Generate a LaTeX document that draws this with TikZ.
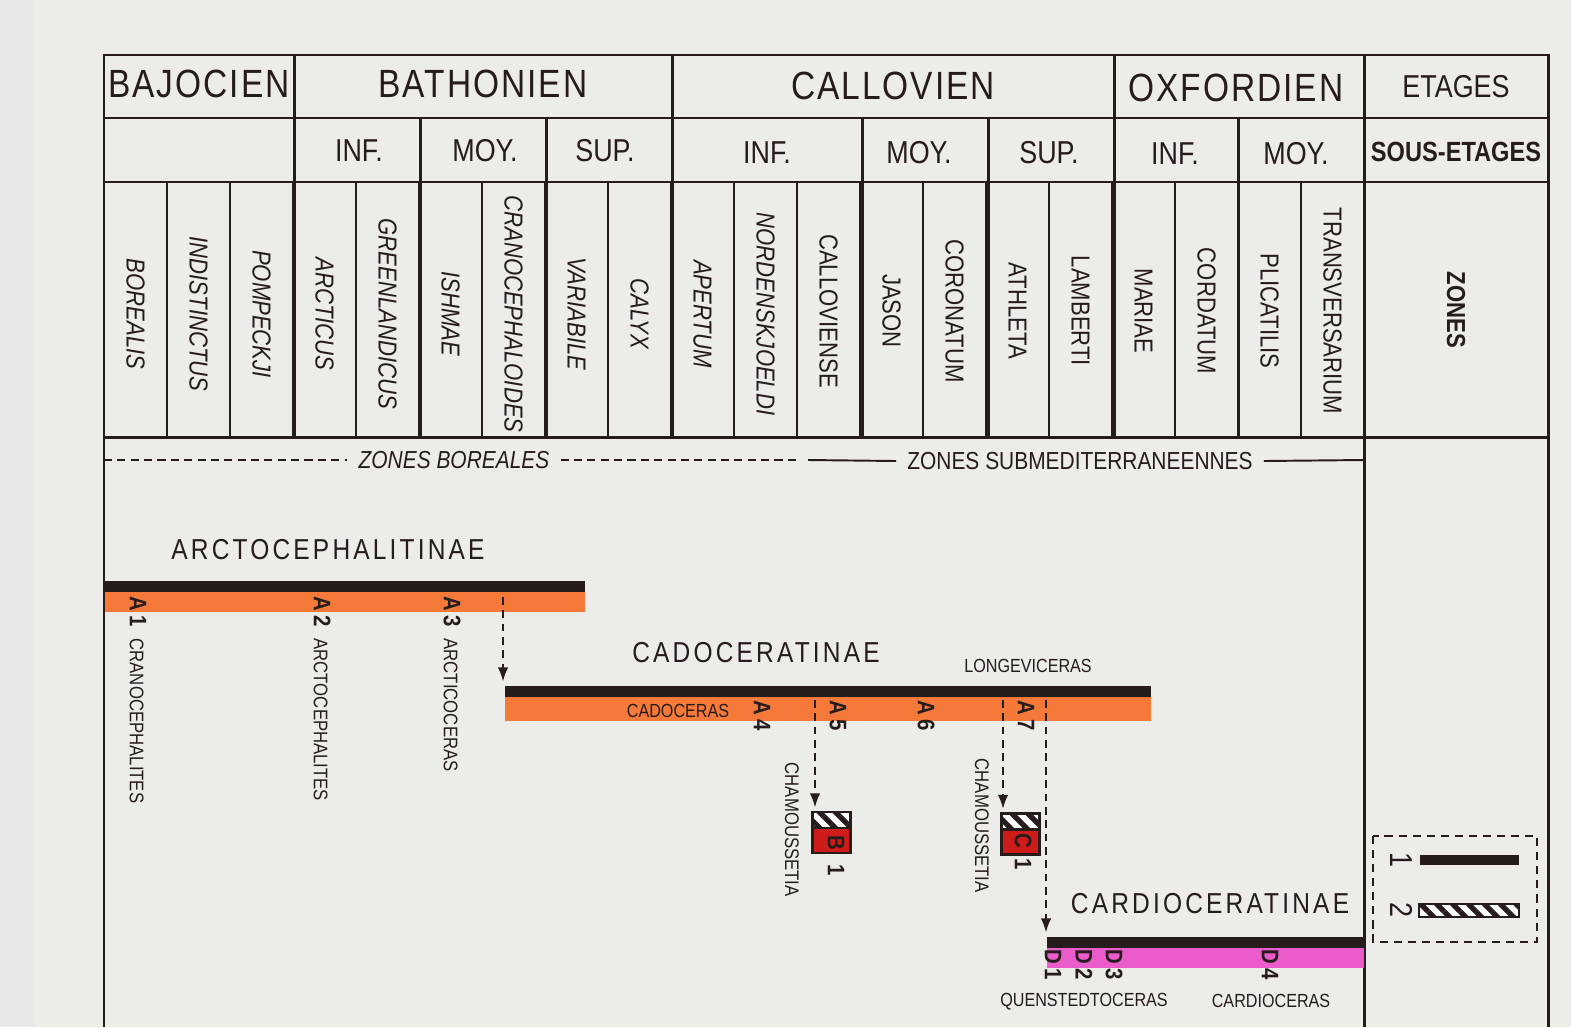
\documentclass[tikz,border=0pt]{standalone}
\usepackage{fontspec}
\setmainfont[FakeStretch=0.85]{Liberation Sans}
\newfontfamily\plotter[FakeStretch=0.85, LetterSpace=11]{Liberation Sans}
\newfontfamily\plotterstage[FakeStretch=0.85, LetterSpace=5]{Liberation Sans}
\usetikzlibrary{arrows.meta,patterns.meta}

\definecolor{paper}{RGB}{236,236,233}
\definecolor{paperedge}{RGB}{232,232,231}
\definecolor{ink}{RGB}{38,28,28}
\definecolor{orangebar}{RGB}{245,122,58}
\definecolor{pinkbar}{RGB}{234,92,202}
\definecolor{boxred}{RGB}{206,28,26}

\newcommand{\fsize}[1]{\fontsize{#1}{#1}\selectfont}
\newcommand{\genus}[1]{{\fsize{5.6}\mdseries #1}}

\begin{document}
\begin{tikzpicture}[
	x=0.01cm, y=-0.01cm,
	border/.style={draw=ink, line width=0.85pt},
	rule/.style={draw=ink, line width=0.55pt},
	stage/.style={text=ink, font=\plotterstage\fsize{11.2}},
	sub/.style={text=ink, font=\fsize{9}},
	zone/.style={text=ink, rotate=-90, font=\fsize{7.4}},
	boreal/.style={zone, font=\fsize{7.4}\itshape},
	band/.style={text=ink, inner sep=3pt, font=\fsize{7}},
	family/.style={text=ink, font=\plotter\fsize{8.2}},
	genre/.style={text=ink, inner sep=0, font=\fsize{5.4}},
	tag/.style={text=ink, rotate=-90, anchor=west, inner sep=0, font=\fsize{6.8}\bfseries},
	bar/.style={inner sep=0, anchor=north west, minimum height=0.31cm,
		path picture={\fill[ink] (path picture bounding box.north west)
			rectangle ([yshift=-0.11cm]path picture bounding box.north east);}},
	hatch/.style={pattern={Lines[angle=-45, distance=3.2pt, line width=1.5pt]}, pattern color=ink},
	hatchbox/.style={draw=ink, line width=0.6pt, fill=boxred, inner sep=0,
		minimum width=0.38cm, minimum height=0.41cm,
		path picture={
			\fill[white] (path picture bounding box.north west)
				rectangle ([yshift=-0.16cm]path picture bounding box.north east);
			\fill[hatch] (path picture bounding box.north west)
				rectangle ([yshift=-0.16cm]path picture bounding box.north east);
			\draw[ink, line width=0.6pt] ([yshift=-0.16cm]path picture bounding box.north west)
				-- ([yshift=-0.16cm]path picture bounding box.north east);}},
	flow/.style={draw=ink, line width=0.6pt, dash pattern=on 2.2pt off 1.6pt,
		shorten >=1pt, -{Latex[length=4pt, width=3pt]}},
	]

	\fill[paper] (0,0) rectangle (1571,1027);
	\fill[paperedge] (0,0) rectangle (34,1027);
	\useasboundingbox (0,0) rectangle (1571,1027);

	% table
	\draw[border] (104,1027) -- (104,55) -- (1548,55) -- (1548,1027);
	\draw[border] (1364,55) -- (1364,1027);
	\foreach \y in {118,182,437}
		\draw[border] (104,\y) -- (1548,\y);
	\foreach \x in {294,672,1114}
		\draw[border] (\x,55) -- (\x,437);
	\foreach \x in {420,546,862,988,1238}
		\draw[border] (\x,118) -- (\x,437);
	\foreach \i in {1,...,19}
		\draw[rule] ({104+63*\i},182) -- ({104+63*\i},437);

	\node[stage] (bajocien) at (199,84) {BAJOCIEN};
	\node[stage] (bathonien) at (483,84) {BATHONIEN};
	\node[stage] (callovien) at (893,86) {CALLOVIEN};
	\node[stage] (oxfordien) at (1236,88) {OXFORDIEN};
	\node[sub] (etages) at (1456,87) {ETAGES};

	\node[sub] (bathinf) at (359,151) {INF.};
	\node[sub] (bathmoy) at (485,151) {MOY.};
	\node[sub] (bathsup) at (605,151) {SUP.};
	\node[sub] (callinf) at (767,153) {INF.};
	\node[sub] (callmoy) at (919,153) {MOY.};
	\node[sub] (callsup) at (1049,153) {SUP.};
	\node[sub] (oxfinf) at (1175,154) {INF.};
	\node[sub] (oxfmoy) at (1296,154) {MOY.};
	\node[sub, font=\fsize{7.9}\bfseries] (sousetages) at (1456,152) {SOUS-ETAGES};

	\foreach \name [count=\i] in {BOREALIS,INDISTINCTUS,POMPECKJI,ARCTICUS,GREENLANDICUS,ISHMAE,CRANOCEPHALOIDES,VARIABILE,CALYX,APERTUM,NORDENSKJOELDI}
		\node[boreal] (zone\i) at ({72.5+63*\i},314) {\name};
	\foreach \name [count=\i from 12] in {CALLOVIENSE,JASON,CORONATUM,ATHLETA,LAMBERTI,MARIAE,CORDATUM,PLICATILIS,TRANSVERSARIUM}
		\node[zone] (zone\i) at ({72.5+63*\i},311) {\name};
	\node[zone, font=\fsize{7.4}\bfseries] (zones) at (1456,310) {ZONES};

	% boreal / submediterranean zones
	\node[band, font=\fsize{7}\itshape] (boreales) at (454,460) {ZONES BOREALES};
	\node[band] (submed) at (1080,461) {ZONES SUBMEDITERRANEENNES};
	\draw[rule, dash pattern=on 2.3pt off 1.5pt] (104,460) -- (boreales.west);
	\draw[rule, dash pattern=on 2.3pt off 1.5pt] (boreales.east) -- (798,460);
	\draw[rule] (808,460) -- (submed.west);
	\draw[rule] (submed.east) -- (1364,460);

	% subfamilies
	\node[family] (arcto) at (328,550) {ARCTOCEPHALITINAE};
	\node[family] (cado) at (756,653) {CADOCERATINAE};
	\node[family] (cardio) at (1210,904) {CARDIOCERATINAE};

	\node[bar, fill=orangebar, minimum width=4.8cm] (arctobar) at (104,580) {};
	\node[bar, fill=orangebar, minimum width=6.46cm, minimum height=0.35cm] (cadobar) at (504,685) {};
	\node[bar, fill=pinkbar, minimum width=3.17cm] (cardiobar) at (1046,936) {};

	\node[tag] (a1) at (138,596) {A\,1\enspace\genus{CRANOCEPHALITES}};
	\node[tag] (a2) at (322,596) {A\,2\enspace\genus{ARCTOCEPHALITES}};
	\node[tag] (a3) at (452,596) {A\,3\enspace\genus{ARCTICOCERAS}};
	\foreach \n/\x in {4/762,5/838,6/926,7/1026}
		\node[tag] (a\n) at (\x,700) {A\,\n};
	\foreach \n/\x in {1/1053,2/1084,3/1114,4/1270}
		\node[tag] (d\n) at (\x,949) {D\,\n};

	\node[genre] (cadoceras) at (678,711) {CADOCERAS};
	\node[genre] (longeviceras) at (1028,666) {LONGEVICERAS};
	\node[genre] (quenstedtoceras) at (1084,1002) {QUENSTEDTOCERAS};
	\node[genre] (cardioceras) at (1271,1001) {CARDIOCERAS};

	\node[hatchbox] (b1box) at (831.5,832.5) {};
	\node[hatchbox] (c1box) at (1020.5,834) {};
	\node[tag] (b1) at (836,835) {B\hspace{4pt}1};
	\node[tag] (c1) at (1023,833) {C\hspace{3pt}1};
	\node[tag, font=\fsize{5.6}] (chamb) at (792,762) {CHAMOUSSETIA};
	\node[tag, font=\fsize{5.6}] (chamc) at (982,758) {CHAMOUSSETIA};

	% filiations
	\coordinate (arctoout) at (503,597);
	\coordinate (b1in) at (815,700);
	\coordinate (c1in) at (1003,700);
	\coordinate (cardioin) at (1046,700);
	\path[flow] (arctoout) -- (arctoout |- cadobar.north);
	\path[flow] (b1in) -- (b1in |- b1box.north);
	\path[flow] (c1in) -- (c1in |- c1box.north);
	\path[flow] (cardioin) -- (cardioin |- cardiobar.north);

	% legend
	\draw[rule, dash pattern=on 2.3pt off 1.7pt] (1373,836) rectangle (1537,942);
	\node[text=ink, rotate=-90, font=\fsize{9}] (key1) at (1401,860) {1};
	\node[text=ink, rotate=-90, font=\fsize{9}] (key2) at (1402,910) {2};
	\fill[ink] (1420,855) rectangle (1519,865);
	\fill[white] (1419,904) rectangle (1519,917);
	\path[hatch] (1419,904) rectangle (1519,917);
	\draw[ink, line width=0.6pt] (1419,904) rectangle (1519,917);
\end{tikzpicture}
\end{document}
